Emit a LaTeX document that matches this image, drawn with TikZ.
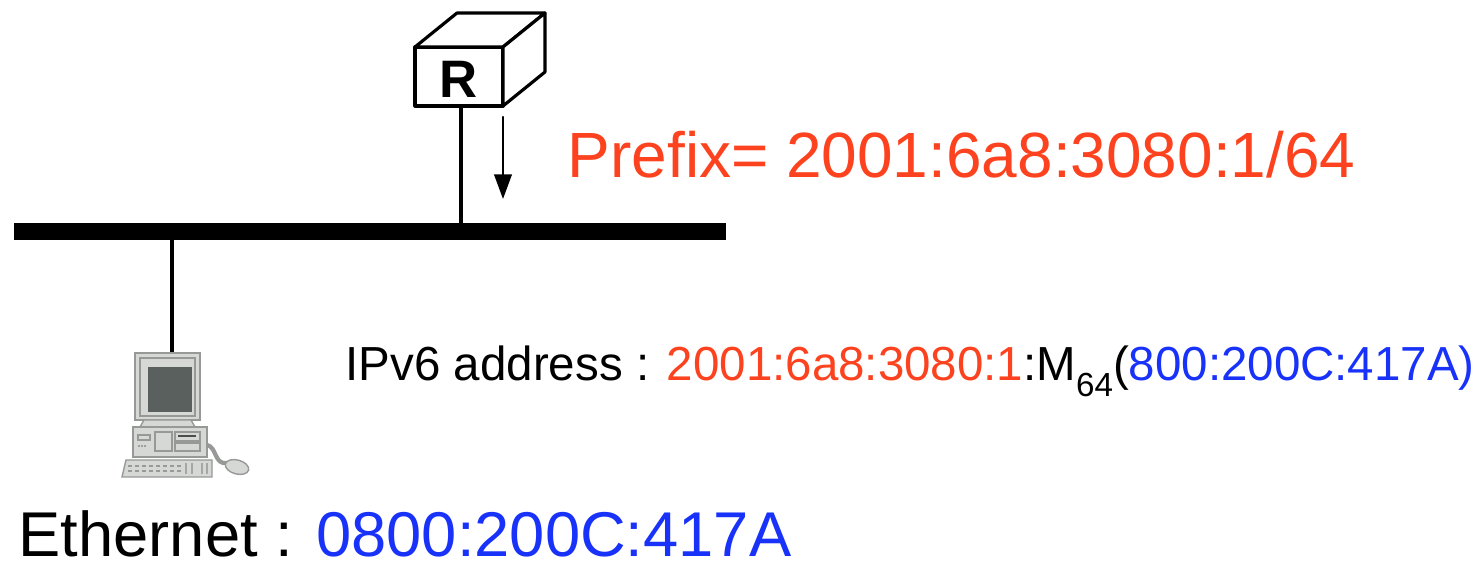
\documentclass[tikz,border=0pt]{standalone}
\usepackage{fontspec}
\setmainfont{Liberation Sans}
\usepackage{tkz-euclide}

\definecolor{prefixred}{RGB}{252,66,30}
\definecolor{macblue}{RGB}{25,50,250}
\definecolor{boxgray}{RGB}{214,216,214}
\definecolor{edgegray}{RGB}{150,153,150}
\definecolor{screengray}{RGB}{90,96,94}

\begin{document}
\begin{tikzpicture}[%
  link/.style = {line width=0.9pt},
  bus/.style  = {line width=0.17cm, line cap=butt},
  case/.style = {fill=boxgray, draw=edgegray, line width=0.4pt},
  >={Triangle[width=5pt,length=7pt]},
]
  \useasboundingbox (0,0) rectangle (14.81,5.63);

  % router box (front face, top, side)
  \tkzDefPoint(4.15,4.57){F1}
  \tkzDefPoint(5.03,4.57){F2}
  \tkzDefPoint(5.03,5.16){F3}
  \tkzDefPoint(4.15,5.16){F4}
  \tkzDefPoint(4.57,5.50){B1}
  \tkzDefPoint(5.45,5.50){B2}
  \tkzDefPoint(5.45,4.91){B3}
  \tkzDrawPolygon[link,fill=white](F1,F2,F3,F4)
  \tkzDrawPolygon[link,fill=white](F4,B1,B2,F3)
  \tkzDrawPolygon[link,fill=white](F3,B2,B3,F2)
  \node[font=\bfseries\fontsize{15}{15}\selectfont] (rtr) at (4.59,4.84) {R};

  % the link
  \tkzDefPoint(0.14,3.315){L}
  \tkzDefPoint(7.26,3.315){E}
  \tkzDrawSegment[bus](L,E)

  \tkzDefPoint(4.61,4.57){Rdown}
  \tkzDefPoint(4.61,3.40){Rbus}
  \tkzDrawSegment[link](Rdown,Rbus)

  % router advertisement
  \tkzDefPoint(5.03,4.46){A}
  \tkzDefPoint(5.03,3.64){Z}
  \tkzDrawSegment[line width=0.6pt,->](A,Z)

  \tkzDefPoint(1.72,3.23){Hbus}
  \tkzDefPoint(1.72,2.10){Htop}
  \tkzDrawSegment[link](Hbus,Htop)

  % host
  \begin{scope}
    \draw[case] (1.35,1.43) rectangle (2.00,2.10);
    \draw[case] (1.40,1.47) rectangle (1.95,2.05);
    \fill[screengray] (1.48,1.51) rectangle (1.92,1.96);
    \draw[case] (1.44,1.43) -- (1.91,1.43) -- (1.95,1.36) -- (1.40,1.36) -- cycle;
    \draw[case] (1.33,1.06) rectangle (2.07,1.36);
    \draw[case] (1.38,1.23) rectangle (1.50,1.28);
    \draw[case] (1.55,1.12) rectangle (1.72,1.31);
    \draw[case] (1.75,1.22) rectangle (2.00,1.31);
    \draw[case] (1.75,1.12) rectangle (2.00,1.20);
    \fill[black!70] (1.78,1.26) rectangle (1.96,1.275);
    \foreach \x in {1.39,1.42,1.45}
      \fill[black!60] (\x,1.17) circle (0.008);
    \draw[edgegray, line width=1.2pt] (2.07,1.18) .. controls (2.17,1.16) and (2.14,0.98) .. (2.27,1.00);
    \draw[case] (1.22,0.86) -- (2.12,0.86) -- (2.12,1.03) -- (1.26,1.03) -- cycle;
    \foreach \y in {0.92,0.97}
      \draw[black!40, dash pattern=on 1pt off 1pt] (1.28,\y) -- (1.82,\y);
    \foreach \x in {1.86,1.92,2.02,2.07}
      \draw[black!35] (\x,0.89) -- (\x,1.00);
    \draw[case, rotate around={-15:(2.37,0.96)}] (2.37,0.96) ellipse (0.12 and 0.07);
  \end{scope}

  % addresses
  \node[anchor=base west, inner sep=0pt, text=prefixred,
        font=\fontsize{18.2}{18.2}\selectfont] (pfx) at (5.67,3.85)
    {Prefix= 2001:6a8:3080:1/64};

  \node[anchor=base west, inner sep=0pt,
        font=\fontsize{13.6}{13.6}\selectfont] (ipv6) at (3.45,1.82)
    {\resizebox{11.29cm}{\height}{IPv6 address : \textcolor{prefixred}{2001:6a8:3080:1}:M\raisebox{-0.6ex}{\fontsize{9.5}{9.5}\selectfont 64}(\textcolor{macblue}{800:200C:417A)}}};

  \node[anchor=base west, inner sep=0pt,
        font=\fontsize{18}{18}\selectfont] (eth) at (0.18,0.06)
    {Ethernet : \textcolor{macblue}{0800:200C:417A}};
\end{tikzpicture}
\end{document}
